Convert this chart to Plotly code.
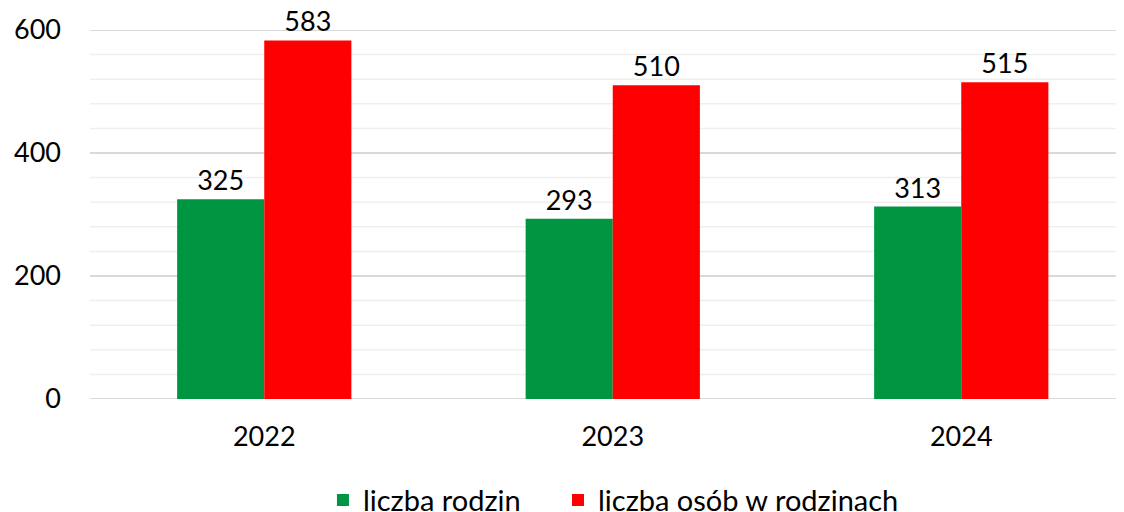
import plotly.graph_objects as go

years = ["2022", "2023", "2024"]
rodziny = [325, 293, 313]
osoby = [583, 510, 515]
names = ["liczba rodzin", "liczba osób w rodzinach"]
colors = ["#009641", "#ff0000"]

FONT = "Lato"
FS = 27

fig = go.Figure()
for vals, name, col, lg in zip([rodziny, osoby], names, colors, ["legend", "legend2"]):
    fig.add_trace(go.Bar(
        x=years, y=vals, name=name, marker_color=col,
        marker_line_width=0, legend=lg,
        text=[str(v) for v in vals], textposition="outside",
        textfont=dict(size=FS, color="black", family=FONT),
        cliponaxis=False,
    ))

leg = dict(orientation="h", xanchor="left", y=-0.274, yanchor="middle",
           font=dict(size=29, family=FONT), bgcolor="rgba(0,0,0,0)")

# page body has an 8px margin; figure sized/offset to compensate
fig.update_layout(
    width=1116, height=504,
    margin=dict(l=82, r=0, t=22, b=113, autoexpand=False),
    barmode="group", bargap=0.5, bargroupgap=0,
    plot_bgcolor="white", paper_bgcolor="white",
    font=dict(family=FONT, size=FS, color="black"),
    showlegend=True,
    legend=dict(leg, x=0.2253),
    legend2=dict(leg, x=0.4526),
    uniformtext=dict(minsize=FS, mode="show"),
)
fig.update_xaxes(type="category", range=[-0.5, 2.467], showgrid=False,
                 showline=False, ticks="", tickfont=dict(size=FS), automargin=False,
                 ticklabelstandoff=19)
fig.update_yaxes(range=[0, 600], tickvals=[0, 200, 400, 600],
                 showgrid=False, zeroline=False, showline=False, ticks="",
                 tickfont=dict(size=FS), ticklabelstandoff=28, automargin=False)

# gridlines: minor every 40, major every 200
for v in range(0, 601, 40):
    major = v % 200 == 0
    fig.add_shape(type="line", xref="paper", yref="y", x0=0, x1=1, y0=v, y1=v,
                  line=dict(color="#d9d9d9" if major else "#efefef", width=2 if major else 1.5),
                  layer="below")

fig.write_html("out.html")
